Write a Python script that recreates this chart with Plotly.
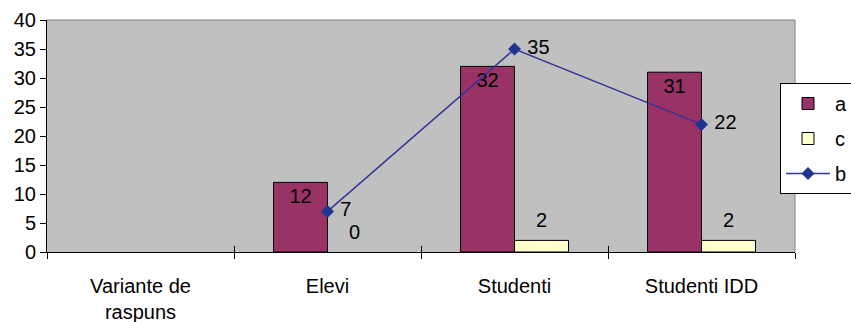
import plotly.graph_objects as go

# Survey answers per respondent group
categories = ["Variante de<br>raspuns", "Elevi", "Studenti", "Studenti IDD"]
series_a = [None, 12, 32, 31]
series_c = [None, 0, 2, 2]
series_b = [None, 7, 35, 22]

y_ticks = [0, 5, 10, 15, 20, 25, 30, 35, 40]

FONT = "Liberation Sans, Arial, sans-serif"
FS = 20
BARGAP = 0.4225

W, H = 851, 322
M = dict(l=47, r=56, t=20, b=70)
plot_w = W - M["l"] - M["r"]
plot_h = H - M["t"] - M["b"]
bar_w_px = plot_w / len(categories) * (1 - BARGAP) / 2

fig = go.Figure()

fig.add_trace(go.Bar(
    name="a", x=categories, y=series_a, legendgroup="a",
    marker=dict(color="#993366", line=dict(color="black", width=1)),
    text=[None if v is None else str(v) for v in series_a],
    textposition="inside", insidetextanchor="end",
    textfont=dict(color="black", size=FS, family=FONT),
    constraintext="none", cliponaxis=False,
))
# zero-height bars get no outline; the legend swatch keeps one
fig.add_trace(go.Bar(
    name="c", x=categories, y=series_c, legendgroup="c",
    marker=dict(color="#FFFFCC",
                line=dict(color="black",
                          width=[0 if v == 0 else 1 for v in series_c])),
))
fig.add_trace(go.Scatter(
    name="b", x=categories, y=series_b, mode="lines+markers+text", legendgroup="b",
    line=dict(color="#333399", width=1.5),
    marker=dict(symbol="diamond", size=10, color="#1F3590"),
    text=[None if v is None else " " + str(v) for v in series_b],
    textposition="middle right",
    textfont=dict(color="black", size=FS, family=FONT),
    cliponaxis=False,
))

# Hidden helper trace so the overlay axis carries the same categories
fig.add_trace(go.Scatter(
    x=categories, y=[0] * len(categories), xaxis="x2", yaxis="y",
    mode="markers", marker=dict(opacity=0), showlegend=False, hoverinfo="skip",
))

# Value labels of series c, above the short bars
annotations = []
for cat, v in zip(categories, series_c):
    if v is None:
        continue
    annotations.append(dict(
        x=cat, y=v, xref="x", yref="y", text=str(v), showarrow=False,
        xshift=bar_w_px / 2, yshift=20, yanchor="middle",
        font=dict(color="black", size=FS, family=FONT),
    ))

axis_common = dict(showgrid=False, zeroline=False, linecolor="black", linewidth=1,
                   tickcolor="black", tickwidth=1, automargin=False)

fig.update_layout(
    width=W, height=H, margin=dict(**M, autoexpand=False),
    paper_bgcolor="white", plot_bgcolor="#C0C0C0",
    barmode="group", bargap=BARGAP, bargroupgap=0,
    font=dict(family=FONT, size=FS, color="black"),
    showlegend=True,
    legend=dict(
        x=(780 - M["l"]) / plot_w, y=(252 - 83) / plot_h,
        xanchor="left", yanchor="top",
        bgcolor="white", bordercolor="black", borderwidth=1,
        font=dict(size=FS, family=FONT), traceorder="grouped",
        tracegroupgap=6, itemwidth=44,
    ),
    xaxis=dict(
        **axis_common, type="category", categoryorder="array", categoryarray=categories,
        range=[-0.5, len(categories) - 0.5], showline=True,
        ticks="outside", ticklen=6, tickson="boundaries", ticklabelstandoff=16,
    ),
    xaxis2=dict(
        **axis_common, type="category", categoryorder="array", categoryarray=categories,
        range=[-0.5, len(categories) - 0.5], overlaying="x", anchor="y", side="bottom",
        showline=False, ticks="inside", ticklen=6, tickson="boundaries",
        showticklabels=False,
    ),
    yaxis=dict(
        **axis_common, range=[0, 40], tickvals=y_ticks, showline=True,
        ticks="outside", ticklen=6,
    ),
    yaxis2=dict(
        **axis_common, range=[0, 40], tickvals=y_ticks, overlaying="y", anchor="x",
        side="left", showline=False, ticks="inside", ticklen=6, showticklabels=False,
    ),
    annotations=annotations,
    shapes=[
        dict(type="line", xref="paper", yref="paper", x0=0, x1=1, y0=1, y1=1,
             line=dict(color="#808080", width=1)),
        dict(type="line", xref="paper", yref="paper", x0=1, x1=1, y0=0, y1=1,
             line=dict(color="#808080", width=1)),
    ],
)

fig.write_html("out.html")
